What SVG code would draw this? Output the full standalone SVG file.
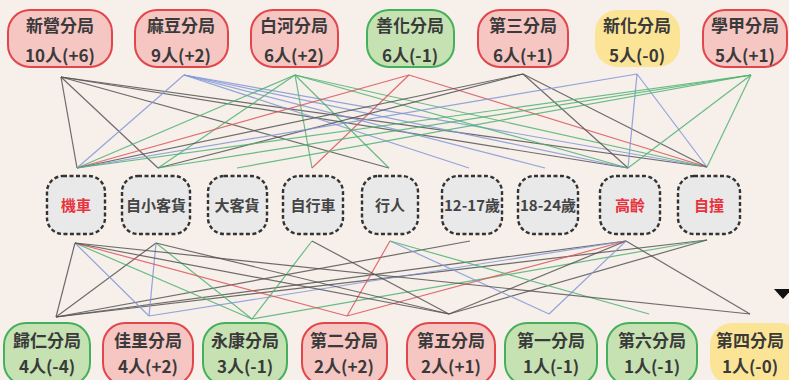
<svg xmlns="http://www.w3.org/2000/svg" width="789" height="380" viewBox="0 0 789 380">
<style>
.bg{fill:#f7efe9}
.r{fill:#f5c6c2;stroke:#e2464b;stroke-width:2}
.g{fill:#c6e2b3;stroke:#45b05c;stroke-width:2}
.y{fill:#fce497;stroke:none}
.m{fill:#e9e9ea;stroke:#333;stroke-width:2.4;stroke-dasharray:4 2.5}
.t{font-family:"Noto Sans CJK TC","Noto Sans CJK SC",sans-serif;font-size:17px;font-weight:700;fill:#3a3a3a;text-anchor:middle}
.mt{font-family:"Noto Sans CJK TC","Noto Sans CJK SC",sans-serif;font-size:15px;font-weight:700;fill:#444;text-anchor:middle}
.hot{fill:#e8323c}
#links line{fill:none;stroke-width:1.2;stroke-opacity:0.85}
.k{stroke:#555}
.b{stroke:#8096d8}
.n{stroke:#4db373}
.d{stroke:#d9575c}
</style>
<rect class="bg" x="0" y="0" width="789" height="380"/>

<g id="links">
<line class="k" x1="61" y1="77" x2="77" y2="168"/>
<line class="k" x1="61" y1="77" x2="158" y2="168"/>
<line class="k" x1="61" y1="77" x2="389" y2="168"/>
<line class="k" x1="61" y1="77" x2="628" y2="168"/>
<line class="k" x1="61" y1="77" x2="707" y2="167"/>
<line class="b" x1="184" y1="75" x2="77" y2="168"/>
<line class="b" x1="184" y1="75" x2="469" y2="168"/>
<line class="b" x1="184" y1="75" x2="545" y2="168"/>
<line class="b" x1="184" y1="75" x2="628" y2="168"/>
<line class="b" x1="184" y1="75" x2="707" y2="167"/>
<line class="n" x1="295" y1="75" x2="77" y2="168"/>
<line class="n" x1="295" y1="75" x2="158" y2="168"/>
<line class="n" x1="295" y1="75" x2="312" y2="168"/>
<line class="n" x1="295" y1="75" x2="389" y2="168"/>
<line class="n" x1="295" y1="75" x2="628" y2="168"/>
<line class="n" x1="295" y1="75" x2="707" y2="167"/>
<line class="d" x1="409" y1="75" x2="77" y2="168"/>
<line class="d" x1="409" y1="75" x2="312" y2="168"/>
<line class="d" x1="409" y1="75" x2="707" y2="167"/>
<line class="k" x1="523" y1="74" x2="77" y2="168"/>
<line class="k" x1="523" y1="74" x2="158" y2="168"/>
<line class="k" x1="523" y1="74" x2="628" y2="168"/>
<line class="k" x1="523" y1="74" x2="707" y2="167"/>
<line class="b" x1="637" y1="74" x2="77" y2="168"/>
<line class="b" x1="637" y1="74" x2="628" y2="168"/>
<line class="b" x1="637" y1="74" x2="707" y2="167"/>
<line class="n" x1="751" y1="75" x2="77" y2="168"/>
<line class="n" x1="751" y1="75" x2="158" y2="168"/>
<line class="n" x1="751" y1="75" x2="237" y2="168"/>
<line class="n" x1="751" y1="75" x2="628" y2="168"/>
<line class="n" x1="751" y1="75" x2="707" y2="167"/>

<line class="k" x1="56" y1="317" x2="75" y2="243"/>
<line class="k" x1="56" y1="317" x2="156" y2="243"/>
<line class="k" x1="56" y1="317" x2="470" y2="241"/>
<line class="k" x1="56" y1="317" x2="626" y2="241"/>
<line class="k" x1="56" y1="317" x2="707" y2="240"/>
<line class="b" x1="149" y1="316" x2="75" y2="243"/>
<line class="b" x1="149" y1="316" x2="156" y2="243"/>
<line class="b" x1="149" y1="316" x2="626" y2="241"/>
<line class="n" x1="252" y1="319" x2="75" y2="243"/>
<line class="n" x1="252" y1="319" x2="156" y2="243"/>
<line class="n" x1="252" y1="319" x2="312" y2="241"/>
<line class="n" x1="252" y1="319" x2="707" y2="240"/>
<line class="d" x1="347" y1="316" x2="75" y2="243"/>
<line class="d" x1="347" y1="316" x2="390" y2="241"/>
<line class="d" x1="347" y1="316" x2="626" y2="241"/>
<line class="k" x1="449" y1="314" x2="75" y2="243"/>
<line class="k" x1="449" y1="314" x2="156" y2="243"/>
<line class="k" x1="449" y1="314" x2="312" y2="241"/>
<line class="k" x1="449" y1="314" x2="626" y2="241"/>
<line class="k" x1="449" y1="314" x2="707" y2="240"/>
<line class="b" x1="549" y1="314" x2="390" y2="241"/>
<line class="b" x1="549" y1="314" x2="626" y2="241"/>
<line class="n" x1="649" y1="314" x2="390" y2="241"/>
<line class="k" x1="750" y1="314" x2="75" y2="243"/>
<line class="k" x1="750" y1="314" x2="626" y2="241"/>
</g>

<g id="xinying"><rect class="r" x="8" y="10" width="104" height="57" rx="22"/><text class="t" x="60" y="32">新營分局</text><text class="t" x="60" y="62">10人(+6)</text></g>
<g id="madou"><rect class="r" x="135" y="10" width="93" height="57" rx="22"/><text class="t" x="181" y="32">麻豆分局</text><text class="t" x="181" y="62">9人(+2)</text></g>
<g id="baihe"><rect class="r" x="251" y="10" width="87" height="57" rx="22"/><text class="t" x="294" y="32">白河分局</text><text class="t" x="294" y="62">6人(+2)</text></g>
<g id="shanhua"><rect class="g" x="367" y="10" width="87" height="57" rx="22"/><text class="t" x="410" y="32">善化分局</text><text class="t" x="410" y="62">6人(-1)</text></g>
<g id="disan"><rect class="r" x="478" y="10" width="90" height="57" rx="22"/><text class="t" x="523" y="32">第三分局</text><text class="t" x="523" y="62">6人(+1)</text></g>
<g id="xinhua"><rect class="y" x="595" y="10" width="85" height="57" rx="22"/><text class="t" x="637" y="32">新化分局</text><text class="t" x="637" y="62">5人(-0)</text></g>
<g id="xuejia"><rect class="r" x="703" y="10" width="84" height="57" rx="22"/><text class="t" x="745" y="32">學甲分局</text><text class="t" x="745" y="62">5人(+1)</text></g>

<g id="moto"><rect class="m" x="47" y="176" width="58" height="58" rx="16"/><text class="mt hot" x="76" y="211">機車</text></g>
<g id="car"><rect class="m" x="122" y="176" width="68" height="58" rx="16"/><text class="mt" x="156" y="211">自小客貨</text></g>
<g id="truck"><rect class="m" x="208" y="176" width="59" height="58" rx="16"/><text class="mt" x="237" y="211">大客貨</text></g>
<g id="bike"><rect class="m" x="283" y="176" width="60" height="58" rx="16"/><text class="mt" x="313" y="211">自行車</text></g>
<g id="ped"><rect class="m" x="362" y="176" width="56" height="58" rx="16"/><text class="mt" x="390" y="211">行人</text></g>
<g id="age1217"><rect class="m" x="442" y="176" width="60" height="58" rx="16"/><text class="mt" x="472" y="211" textLength="56" lengthAdjust="spacingAndGlyphs">12-17歲</text></g>
<g id="age1824"><rect class="m" x="518" y="176" width="60" height="58" rx="16"/><text class="mt" x="548" y="211" textLength="56" lengthAdjust="spacingAndGlyphs">18-24歲</text></g>
<g id="elder"><rect class="m" x="600" y="176" width="60" height="58" rx="16"/><text class="mt hot" x="630" y="211">高齡</text></g>
<g id="self"><rect class="m" x="678" y="176" width="62" height="58" rx="16"/><text class="mt hot" x="709" y="211">自撞</text></g>

<g id="guiren"><rect class="g" x="4" y="323" width="86" height="62" rx="22"/><text class="t" x="47" y="347">歸仁分局</text><text class="t" x="47" y="373">4人(-4)</text></g>
<g id="jiali"><rect class="r" x="103" y="323" width="90" height="62" rx="22"/><text class="t" x="148" y="347">佳里分局</text><text class="t" x="148" y="373">4人(+2)</text></g>
<g id="yongkang"><rect class="g" x="203" y="323" width="84" height="62" rx="22"/><text class="t" x="245" y="347">永康分局</text><text class="t" x="245" y="373">3人(-1)</text></g>
<g id="dier"><rect class="r" x="302" y="323" width="85" height="62" rx="22"/><text class="t" x="344" y="347">第二分局</text><text class="t" x="344" y="373">2人(+2)</text></g>
<g id="diwu"><rect class="r" x="407" y="323" width="88" height="62" rx="22"/><text class="t" x="451" y="347">第五分局</text><text class="t" x="451" y="373">2人(+1)</text></g>
<g id="diyi"><rect class="g" x="505" y="323" width="92" height="62" rx="22"/><text class="t" x="551" y="347">第一分局</text><text class="t" x="551" y="373">1人(-1)</text></g>
<g id="diliu"><rect class="g" x="607" y="323" width="90" height="62" rx="22"/><text class="t" x="652" y="347">第六分局</text><text class="t" x="652" y="373">1人(-1)</text></g>
<g id="disi"><rect class="y" x="710" y="323" width="92" height="62" rx="22"/><text class="t" x="750" y="347">第四分局</text><text class="t" x="750" y="373">1人(-0)</text></g>

<polygon points="774,289 792,289 783,299" fill="#111"/>
</svg>
